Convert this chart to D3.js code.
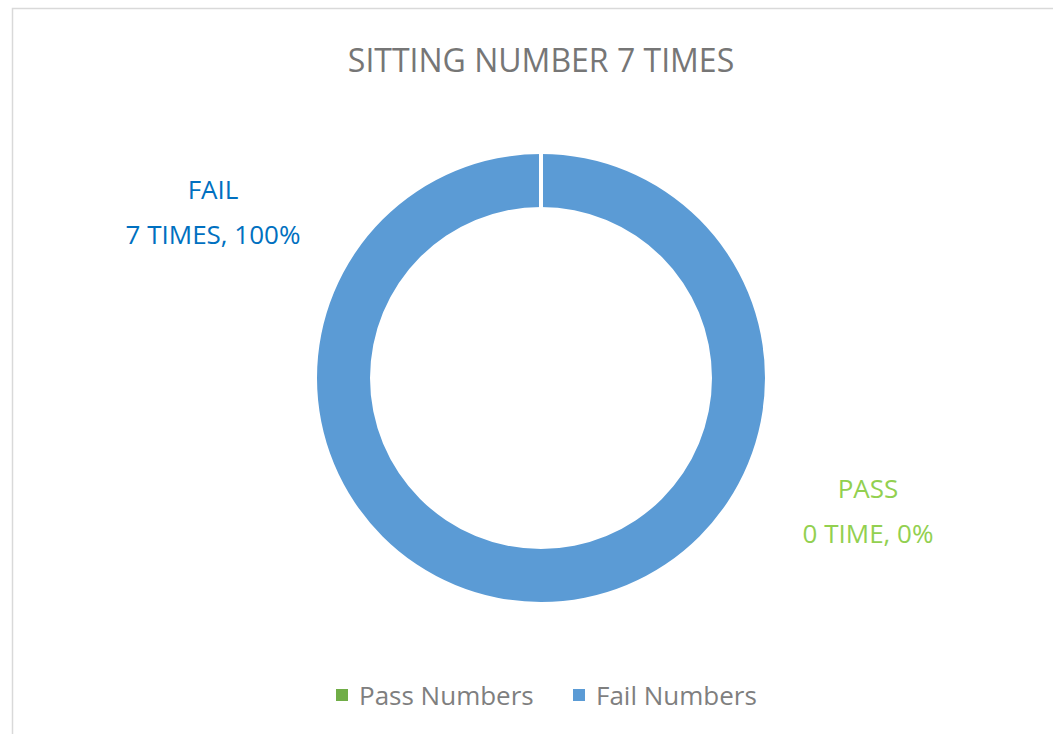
<!DOCTYPE html>
<html>
<head>
<meta charset="utf-8">
<script src="https://cdn.jsdelivr.net/npm/d3@7"></script>
<style>
  body { margin: 0; background: #fff; }
  text { font-family: "Open Sans", "Noto Sans", sans-serif; }
</style>
</head>
<body>
<div id="chart"></div>
<script>
// chart data
var categories = ['Pass Numbers', 'Fail Numbers'];
var values = [0, 7];
var labelNames = ['PASS', 'FAIL'];
var labelTexts = ['0 TIME, 0%', '7 TIMES, 100%'];
var titleText = 'SITTING NUMBER 7 TIMES';

var sliceColors = ['#70ad47', '#5b9bd5'];
var labelColors = ['#92d050', '#0070c0'];

function ready() {
  var width = 1053, height = 734;
  var cx = 541, cy = 378;
  var outerR = 224, innerR = 171;

  var svg = d3.select('#chart').append('svg')
    .attr('width', width)
    .attr('height', height);

  // chart area border (runs off the right and bottom)
  svg.append('rect')
    .attr('x', 12.5).attr('y', 8.5)
    .attr('width', width + 20).attr('height', height + 20)
    .attr('fill', 'none')
    .attr('stroke', '#d9d9d9')
    .attr('stroke-width', 1.5);

  svg.append('text')
    .attr('x', cx).attr('y', 72)
    .attr('text-anchor', 'middle')
    .attr('fill', '#767676')
    .style('font-size', '32px')
    .text(titleText);

  var pie = d3.pie().sort(null).value(function(d) { return d; });
  var arc = d3.arc().innerRadius(innerR).outerRadius(outerR);
  var arcs = pie(values);

  var g = svg.append('g').attr('transform', 'translate(' + cx + ',' + cy + ')');

  g.selectAll('path')
    .data(arcs)
    .enter().append('path')
    .attr('d', arc)
    .attr('fill', function(d, i) { return sliceColors[i]; });

  // white slice borders at each slice start
  g.selectAll('line.sep')
    .data(arcs)
    .enter().append('line')
    .attr('class', 'sep')
    .attr('x1', function(d) { return (innerR - 2) * Math.sin(d.startAngle); })
    .attr('y1', function(d) { return -(innerR - 2) * Math.cos(d.startAngle); })
    .attr('x2', function(d) { return (outerR + 2) * Math.sin(d.startAngle); })
    .attr('y2', function(d) { return -(outerR + 2) * Math.cos(d.startAngle); })
    .attr('stroke', '#fff')
    .attr('stroke-width', 4);

  // data labels, placed by hand like the original
  var labelPos = [[327, 120], [-328, -179]];
  labelNames.forEach(function(name, i) {
    var t = g.append('text')
      .attr('text-anchor', 'middle')
      .attr('fill', labelColors[i])
      .style('font-size', '26px');
    t.append('tspan')
      .attr('x', labelPos[i][0]).attr('y', labelPos[i][1])
      .text(name);
    t.append('tspan')
      .attr('x', labelPos[i][0]).attr('y', labelPos[i][1] + 45)
      .text(labelTexts[i]);
  });

  // legend
  var legendX = [336, 573];
  var legend = svg.selectAll('.legend')
    .data(categories)
    .enter().append('g')
    .attr('class', 'legend')
    .attr('transform', function(d, i) { return 'translate(' + legendX[i] + ',689)'; });

  legend.append('rect')
    .attr('width', 12).attr('height', 12)
    .attr('fill', function(d, i) { return sliceColors[i]; });

  legend.append('text')
    .attr('x', 23).attr('y', 16)
    .attr('fill', '#7f7f7f')
    .style('font-size', '26px')
    .text(function(d) { return d; });
}

ready();
</script>
</body>
</html>
